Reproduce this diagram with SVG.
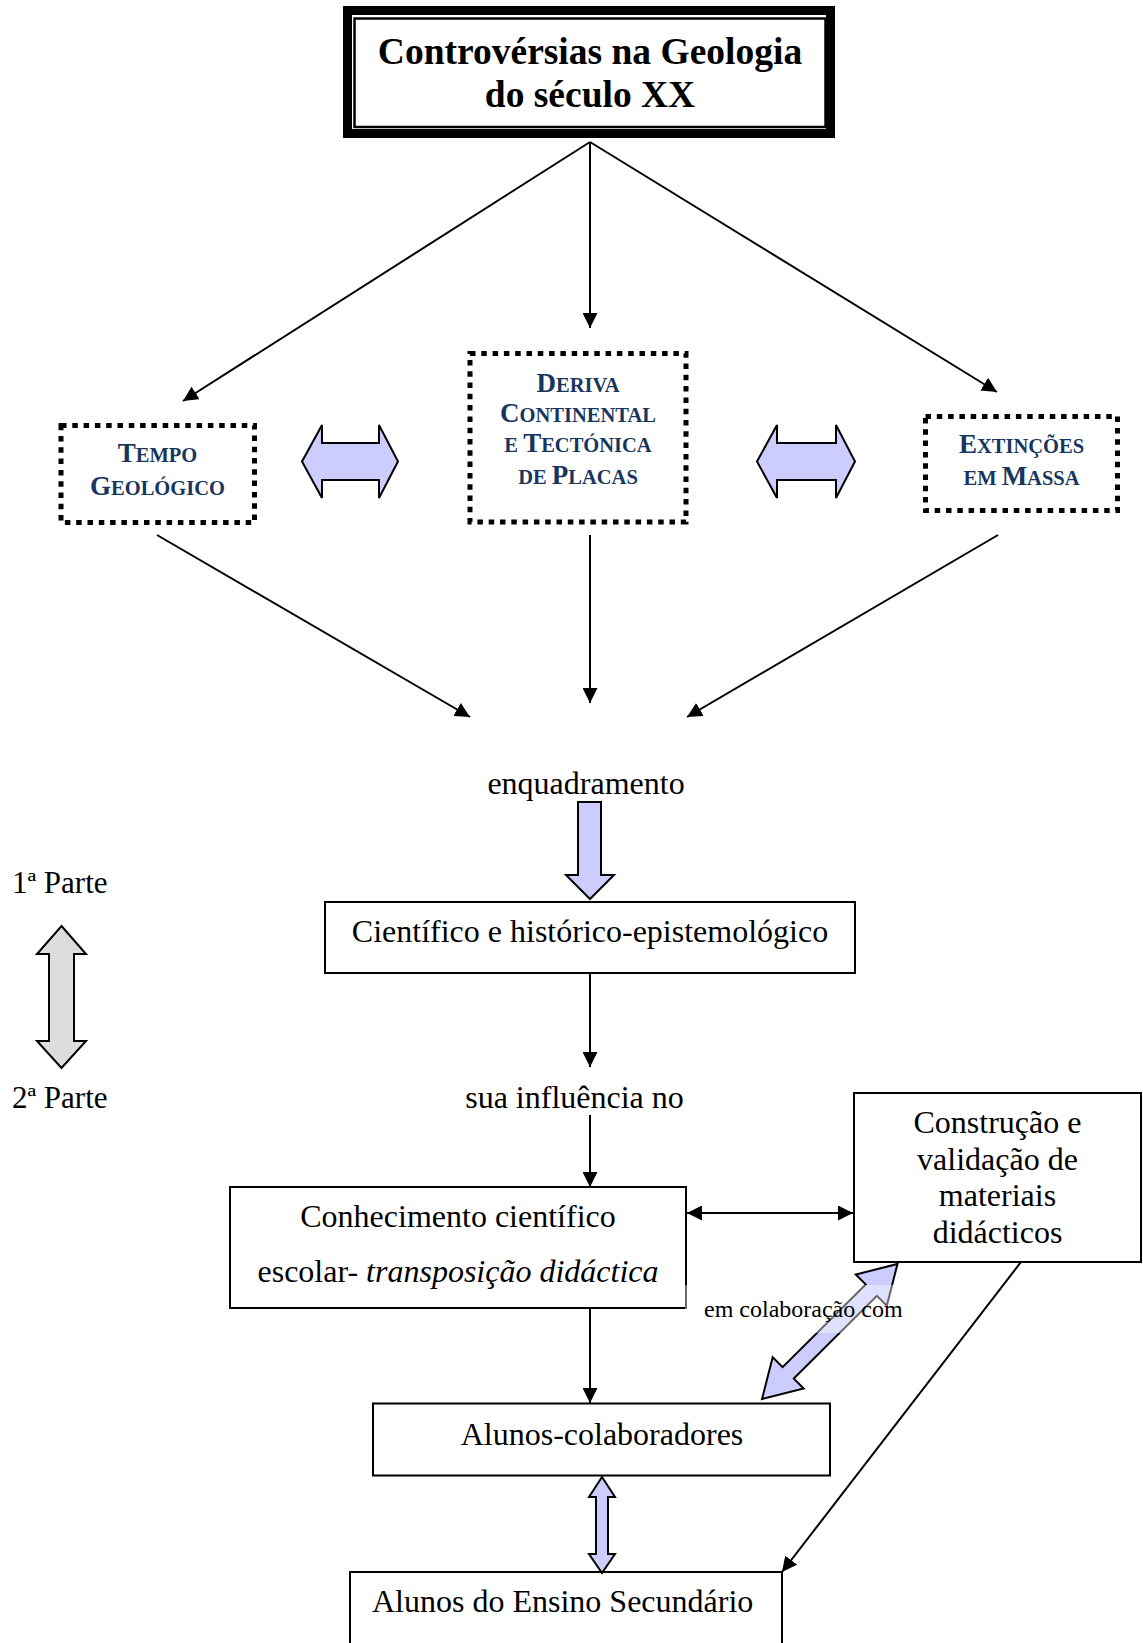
<svg xmlns="http://www.w3.org/2000/svg" width="1143" height="1643" viewBox="0 0 1143 1643">
  <style>
    text { font-family: "Liberation Serif", "Times New Roman", serif; fill: #000; }
    .title { font-size: 37.5px; font-weight: bold; text-anchor: middle; }
    .body { font-size: 32px; }
    .mid { text-anchor: middle; }
    .small { font-size: 24px; }
    .topic { font-weight: bold; fill: #17365D; text-anchor: middle; }
    .cap { font-size: 27px; }
    .sc { font-size: 20.5px; }
    .box { fill: #fff; stroke: #000; stroke-width: 2; }
    .dotted { fill: none; stroke: #000; stroke-width: 5; stroke-dasharray: 5.5 5.8; }
    .conn { fill: none; stroke: #000; stroke-width: 2; }
    .block { fill: #CCCCFF; stroke: #000; stroke-width: 2; stroke-linejoin: miter; }
    .grey { fill: #DDDDDD; stroke: #000; stroke-width: 2; }
  </style>
  <defs>
    <marker id="head" markerUnits="userSpaceOnUse" viewBox="0 0 15 15" markerWidth="15" markerHeight="15" refX="15" refY="7.5" orient="auto-start-reverse">
      <path d="M0,0 L15,7.5 L0,15 Z" fill="#000"/>
    </marker>
  </defs>

  <rect width="1143" height="1643" fill="#fff"/>

  <!-- title -->
  <g id="title">
    <rect x="347.5" y="10.5" width="483" height="123" fill="#fff" stroke="#000" stroke-width="9"/>
    <rect x="354.5" y="18.5" width="471" height="108.5" fill="none" stroke="#000" stroke-width="2.5"/>
    <text class="title" x="590" y="64">Controvérsias na Geologia</text>
    <text class="title" x="590" y="107">do século XX</text>
  </g>

  <!-- three topics -->
  <g id="tempo">
    <rect class="dotted" x="61" y="425.5" width="193.5" height="97"/>
    <text class="topic" x="157.5" y="462"><tspan class="cap">T</tspan><tspan class="sc">EMPO</tspan></text>
    <text class="topic" x="157.5" y="495"><tspan class="cap">G</tspan><tspan class="sc">EOLÓGICO</tspan></text>
  </g>
  <g id="deriva">
    <rect class="dotted" x="470" y="353.5" width="216" height="168.5"/>
    <text class="topic" x="578" y="392"><tspan class="cap">D</tspan><tspan class="sc">ERIVA</tspan></text>
    <text class="topic" x="578" y="422"><tspan class="cap">C</tspan><tspan class="sc">ONTINENTAL</tspan></text>
    <text class="topic" x="578" y="452"><tspan class="sc">E </tspan><tspan class="cap">T</tspan><tspan class="sc">ECTÓNICA</tspan></text>
    <text class="topic" x="578" y="484"><tspan class="sc">DE </tspan><tspan class="cap">P</tspan><tspan class="sc">LACAS</tspan></text>
  </g>
  <g id="extincoes">
    <rect class="dotted" x="925.5" y="416.5" width="192" height="94"/>
    <text class="topic" x="1021.5" y="453"><tspan class="cap">E</tspan><tspan class="sc">XTINÇÕES</tspan></text>
    <text class="topic" x="1021.5" y="485"><tspan class="sc">EM </tspan><tspan class="cap">M</tspan><tspan class="sc">ASSA</tspan></text>
  </g>

  <!-- links between topics -->
  <g id="topic-links">
    <path class="block" d="M302,461.5 L322,425 L322,443 L379,443 L379,425 L398,461.5 L379,498 L379,480 L322,480 L322,498 Z"/>
    <path class="block" d="M757,461.5 L777,425 L777,443 L836,443 L836,425 L855,461.5 L836,498 L836,480 L777,480 L777,498 Z"/>
  </g>

  <!-- part labels -->
  <g id="partes">
    <text class="body" x="12" y="893" style="font-size:31px">1ª Parte</text>
    <path class="grey" d="M61.5,926 L86,954 L74,954 L74,1041 L86,1041 L61.5,1068 L37,1041 L49,1041 L49,954 L37,954 Z"/>
    <text class="body" x="12" y="1108" style="font-size:31px">2ª Parte</text>
  </g>

  <g id="enquadramento">
    <text class="body mid" x="586" y="794">enquadramento</text>
    <path class="block" d="M578,802 L601,802 L601,875 L614,875 L590,899 L566,875 L578,875 Z"/>
  </g>

  <g id="cientifico">
    <rect class="box" x="325" y="902" width="530" height="71"/>
    <text class="body mid" x="590" y="942">Científico e histórico-epistemológico</text>
  </g>

  <g id="influencia">
    <text class="body mid" x="574.5" y="1108">sua influência no</text>
  </g>

  <g id="conhecimento">
    <rect class="box" x="230" y="1187" width="456" height="121"/>
    <text class="body mid" x="458" y="1227">Conhecimento científico</text>
    <text class="body mid" x="458" y="1282">escolar- <tspan font-style="italic">transposição didáctica</tspan></text>
  </g>

  <g id="construcao">
    <rect class="box" x="854" y="1093" width="287" height="169"/>
    <text class="body mid" x="997.5" y="1133">Construção e</text>
    <text class="body mid" x="997.5" y="1169.5">validação de</text>
    <text class="body mid" x="997.5" y="1206">materiais</text>
    <text class="body mid" x="997.5" y="1242.5">didácticos</text>
  </g>

  <g id="colaboradores">
    <rect class="box" x="373" y="1403.5" width="457" height="72"/>
    <text class="body mid" x="602" y="1445">Alunos-colaboradores</text>
  </g>

  <g id="secundario">
    <rect class="box" x="350" y="1572" width="432" height="120"/>
    <text class="body" x="372" y="1612">Alunos do Ensino Secundário</text>
  </g>

  <!-- connectors -->
  <g id="connectors">
    <line class="conn" x1="590" y1="142" x2="590" y2="328" marker-end="url(#head)"/>
    <line class="conn" x1="590" y1="142" x2="183" y2="401" marker-end="url(#head)"/>
    <line class="conn" x1="590" y1="142" x2="997" y2="392" marker-end="url(#head)"/>
    <line class="conn" x1="157" y1="535" x2="470" y2="717" marker-end="url(#head)"/>
    <line class="conn" x1="590" y1="535" x2="590" y2="703" marker-end="url(#head)"/>
    <line class="conn" x1="998" y1="535" x2="687" y2="717" marker-end="url(#head)"/>
    <line class="conn" x1="590" y1="973" x2="590" y2="1067" marker-end="url(#head)"/>
    <line class="conn" x1="590" y1="1115" x2="590" y2="1187" marker-end="url(#head)"/>
    <line class="conn" x1="687" y1="1213" x2="853" y2="1213" marker-start="url(#head)" marker-end="url(#head)"/>
    <line class="conn" x1="590" y1="1308" x2="590" y2="1403" marker-end="url(#head)"/>
    <line class="conn" x1="1021" y1="1262" x2="782" y2="1572" marker-end="url(#head)"/>
    <path class="block" d="M897.5,1264 L886.8,1305.7 L876.9,1295.8 L793.8,1378.6 L803.7,1388.5 L762,1399 L772.7,1357.3 L782.6,1367.2 L865.7,1284.4 L855.8,1274.5 Z"/>
    <path class="block" d="M602,1477 L615,1497 L608,1497 L608,1554 L615,1554 L602,1573 L589,1554 L596,1554 L596,1497 L589,1497 Z"/>
  </g>

  <!-- label of the collaboration link, on a half-clear white ground -->
  <g id="colaboracao">
    <rect x="685" y="1285" width="220" height="48" fill="#fff" fill-opacity="0.4"/>
    <text class="small" x="704" y="1317">em colaboração com</text>
  </g>
</svg>
